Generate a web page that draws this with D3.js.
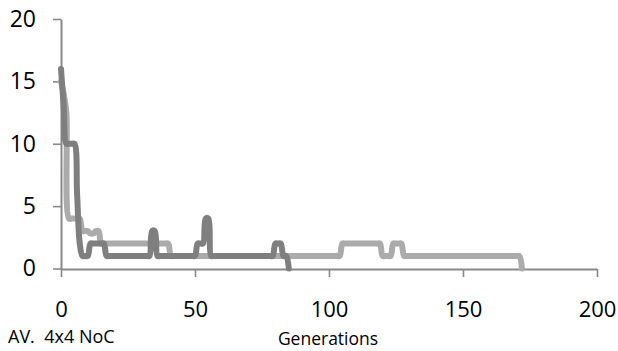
<!DOCTYPE html>
<html>
<head>
<meta charset="utf-8">
<script src="https://cdn.jsdelivr.net/npm/d3@7"></script>
<style>
  html, body { margin: 0; padding: 0; background: #ffffff; }
  svg { display: block; font-family: "Open Sans", "Noto Sans", sans-serif; }
</style>
</head>
<body>
<svg id="chart" width="618" height="351"></svg>
<script>
// ---- data (values per generation) ----
const xTicks = [0, 50, 100, 150, 200];
const yTicks = [0, 5, 10, 15, 20];
const xLabel = "Generations";
const noteLabel = "AV.  4x4 NoC";

// light grey series, generations 0..172
const seriesLight = [
  15, 14, 12.5, 4, 4, 4, 4, 4, 3, 3, 3, 2.8, 2.8, 3, 3, 2,
  2, 2, 2, 2, 2, 2, 2, 2, 2, 2, 2, 2, 2, 2, 2, 2, 2, 2, 2, 2, 2, 2, 2, 2, 2,
  1, 1, 1, 1, 1, 1, 1, 1, 1, 1, 1, 1, 1, 1, 1, 1, 1, 1, 1, 1, 1, 1, 1, 1, 1, 1, 1, 1, 1, 1, 1, 1,
  1, 1, 1, 1, 1, 1, 1, 1, 1, 1, 1, 1, 1, 1, 1, 1, 1, 1, 1, 1, 1, 1, 1, 1, 1, 1, 1, 1, 1, 1, 1, 1,
  2, 2, 2, 2, 2, 2, 2, 2, 2, 2, 2, 2, 2, 2, 2,
  1, 1, 1, 1,
  2, 2, 2, 2,
  1, 1, 1, 1, 1, 1, 1, 1, 1, 1, 1, 1, 1, 1, 1, 1, 1, 1, 1, 1, 1, 1,
  1, 1, 1, 1, 1, 1, 1, 1, 1, 1, 1, 1, 1, 1, 1, 1, 1, 1, 1, 1, 1, 1,
  0
];

// dark grey series, generations 0..85
const seriesDark = [
  16, 13, 10, 10, 10, 10, 6, 2, 1, 1, 1,
  2, 2, 2, 2, 2, 2,
  1, 1, 1, 1, 1, 1, 1, 1, 1, 1, 1, 1, 1, 1, 1, 1, 1,
  3, 3,
  1, 1, 1, 1, 1, 1, 1, 1, 1, 1, 1, 1, 1, 1, 1,
  2, 2, 2,
  4, 4,
  1, 1, 1, 1, 1, 1, 1, 1, 1, 1, 1, 1, 1, 1, 1, 1, 1, 1, 1, 1, 1, 1, 1, 1,
  2, 2, 2,
  1, 1,
  0
];

// ---- drawing ----
const svg = d3.select("#chart");
const axisColor = "#898989";

const x = d3.scaleLinear().domain([0, 200]).range([61, 597]);
const y = d3.scaleLinear().domain([0, 20]).range([268.5, 19]);

const line = d3.line()
  .x((d, i) => x(i))
  .y(d => y(d))
  .curve(d3.curveCatmullRom.alpha(0.5));

// y axis
const yAxis = svg.append("g")
  .attr("transform", `translate(${x(0)},0)`)
  .call(d3.axisLeft(y).tickValues(yTicks).tickSize(8).tickSizeOuter(0).tickPadding(17));
yAxis.select(".domain").attr("stroke", axisColor).attr("stroke-width", 2);
yAxis.selectAll(".tick line").attr("stroke", axisColor).attr("stroke-width", 1.6);
yAxis.selectAll(".tick text")
  .attr("fill", "#000").style("font-size", "23px")
  .style("font-family", "'Open Sans', sans-serif");

// x axis
const xAxis = svg.append("g")
  .attr("transform", `translate(0,${y(0) + 0.5})`)
  .call(d3.axisBottom(x).tickValues(xTicks).tickSize(8).tickSizeOuter(0).tickPadding(24));
xAxis.select(".domain").attr("stroke", axisColor).attr("stroke-width", 2);
xAxis.selectAll(".tick line").attr("stroke", axisColor).attr("stroke-width", 1.6);
xAxis.selectAll(".tick text")
  .attr("fill", "#000").style("font-size", "22px")
  .style("font-family", "'Open Sans', sans-serif");

// series
svg.append("path")
  .datum(seriesLight)
  .attr("d", line)
  .attr("fill", "none")
  .attr("stroke", "#ababab")
  .attr("stroke-width", 6)
  .attr("stroke-linejoin", "round")
  .attr("stroke-linecap", "round");

svg.append("path")
  .datum(seriesDark)
  .attr("d", line)
  .attr("fill", "none")
  .attr("stroke", "#7f7f7f")
  .attr("stroke-width", 6)
  .attr("stroke-linejoin", "round")
  .attr("stroke-linecap", "round");

// texts
svg.append("text")
  .attr("x", 328).attr("y", 344.5)
  .attr("text-anchor", "middle")
  .style("font-size", "17.5px")
  .attr("fill", "#000")
  .text(xLabel);

svg.append("text")
  .attr("x", 8).attr("y", 342.5)
  .style("font-size", "18px")
  .style("white-space", "pre")
  .attr("xml:space", "preserve")
  .attr("fill", "#000")
  .text(noteLabel);
</script>
</body>
</html>
